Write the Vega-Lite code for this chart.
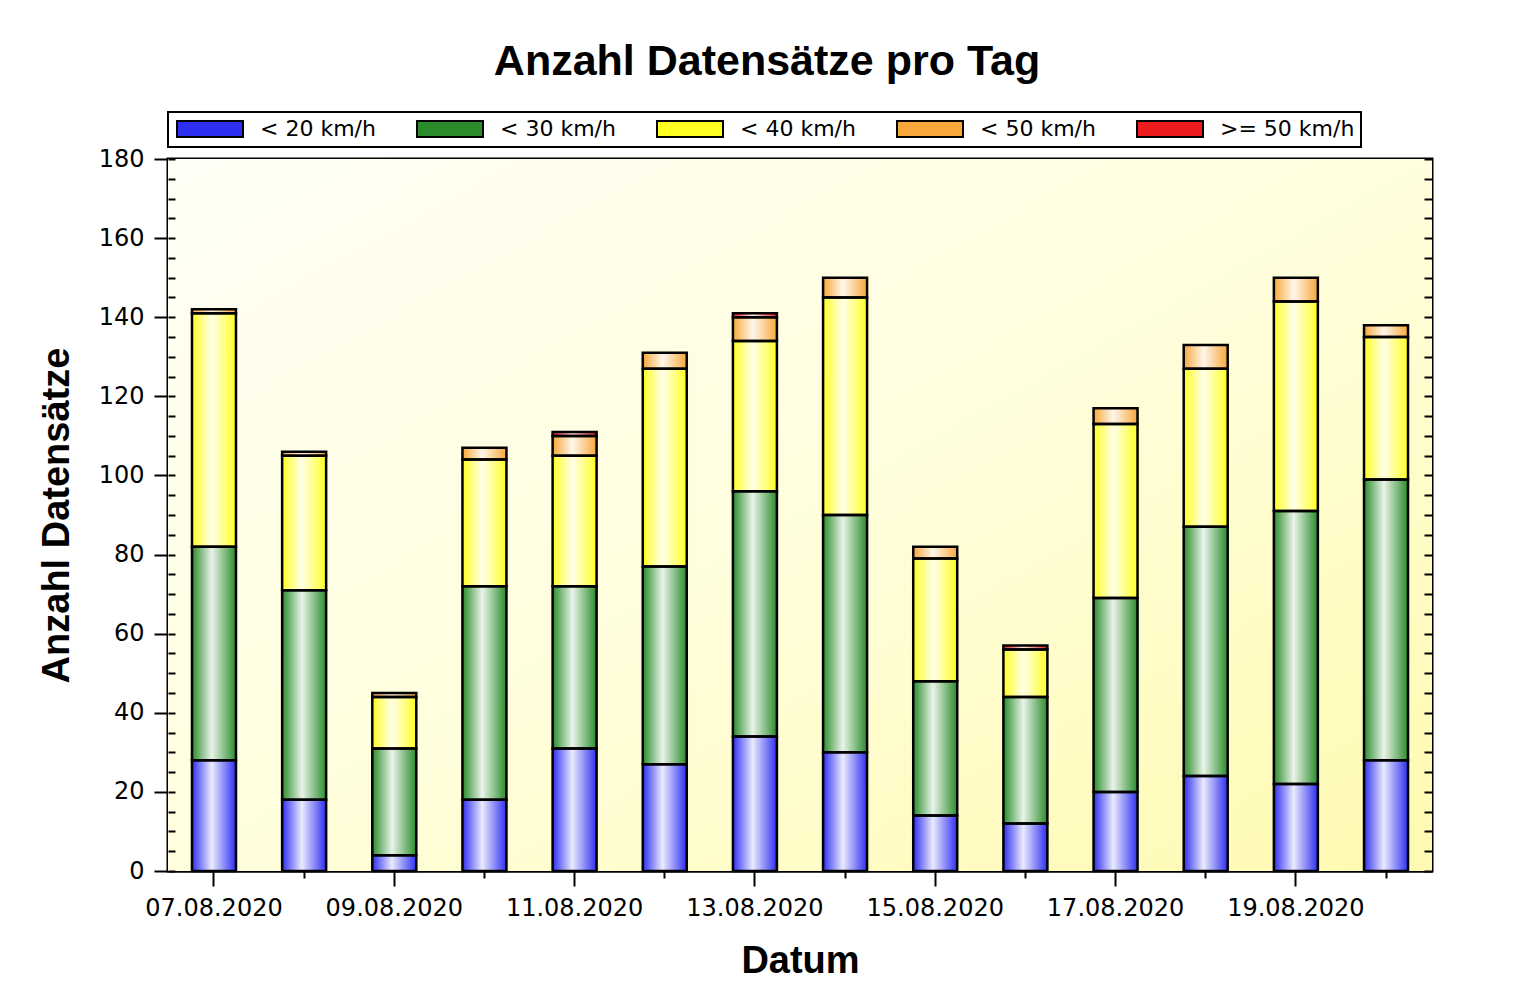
{
  "$schema": "https://vega.github.io/schema/vega-lite/v6.json",
  "width": 1264,
  "height": 712,
  "autosize": {"type": "none"},
  "padding": {"left": 168, "top": 159, "right": 87, "bottom": 129},
  "background": "white",
  "title": {"text": "Anzahl Datensätze pro Tag", "font": "Liberation Sans", "fontSize": 43, "fontWeight": "bold", "color": "black", "anchor": "middle", "dx": -33, "offset": 27},
  "data": {"values": [
    {"date": "07.08.2020", "speed": "< 20 km/h", "n": 28},
    {"date": "07.08.2020", "speed": "< 30 km/h", "n": 54},
    {"date": "07.08.2020", "speed": "< 40 km/h", "n": 59},
    {"date": "07.08.2020", "speed": "< 50 km/h", "n": 1},
    {"date": "08.08.2020", "speed": "< 20 km/h", "n": 18},
    {"date": "08.08.2020", "speed": "< 30 km/h", "n": 53},
    {"date": "08.08.2020", "speed": "< 40 km/h", "n": 34},
    {"date": "08.08.2020", "speed": "< 50 km/h", "n": 1},
    {"date": "09.08.2020", "speed": "< 20 km/h", "n": 4},
    {"date": "09.08.2020", "speed": "< 30 km/h", "n": 27},
    {"date": "09.08.2020", "speed": "< 40 km/h", "n": 13},
    {"date": "09.08.2020", "speed": "< 50 km/h", "n": 1},
    {"date": "10.08.2020", "speed": "< 20 km/h", "n": 18},
    {"date": "10.08.2020", "speed": "< 30 km/h", "n": 54},
    {"date": "10.08.2020", "speed": "< 40 km/h", "n": 32},
    {"date": "10.08.2020", "speed": "< 50 km/h", "n": 3},
    {"date": "11.08.2020", "speed": "< 20 km/h", "n": 31},
    {"date": "11.08.2020", "speed": "< 30 km/h", "n": 41},
    {"date": "11.08.2020", "speed": "< 40 km/h", "n": 33},
    {"date": "11.08.2020", "speed": "< 50 km/h", "n": 5},
    {"date": "11.08.2020", "speed": ">= 50 km/h", "n": 1},
    {"date": "12.08.2020", "speed": "< 20 km/h", "n": 27},
    {"date": "12.08.2020", "speed": "< 30 km/h", "n": 50},
    {"date": "12.08.2020", "speed": "< 40 km/h", "n": 50},
    {"date": "12.08.2020", "speed": "< 50 km/h", "n": 4},
    {"date": "13.08.2020", "speed": "< 20 km/h", "n": 34},
    {"date": "13.08.2020", "speed": "< 30 km/h", "n": 62},
    {"date": "13.08.2020", "speed": "< 40 km/h", "n": 38},
    {"date": "13.08.2020", "speed": "< 50 km/h", "n": 6},
    {"date": "13.08.2020", "speed": ">= 50 km/h", "n": 1},
    {"date": "14.08.2020", "speed": "< 20 km/h", "n": 30},
    {"date": "14.08.2020", "speed": "< 30 km/h", "n": 60},
    {"date": "14.08.2020", "speed": "< 40 km/h", "n": 55},
    {"date": "14.08.2020", "speed": "< 50 km/h", "n": 5},
    {"date": "15.08.2020", "speed": "< 20 km/h", "n": 14},
    {"date": "15.08.2020", "speed": "< 30 km/h", "n": 34},
    {"date": "15.08.2020", "speed": "< 40 km/h", "n": 31},
    {"date": "15.08.2020", "speed": "< 50 km/h", "n": 3},
    {"date": "16.08.2020", "speed": "< 20 km/h", "n": 12},
    {"date": "16.08.2020", "speed": "< 30 km/h", "n": 32},
    {"date": "16.08.2020", "speed": "< 40 km/h", "n": 12},
    {"date": "16.08.2020", "speed": ">= 50 km/h", "n": 1},
    {"date": "17.08.2020", "speed": "< 20 km/h", "n": 20},
    {"date": "17.08.2020", "speed": "< 30 km/h", "n": 49},
    {"date": "17.08.2020", "speed": "< 40 km/h", "n": 44},
    {"date": "17.08.2020", "speed": "< 50 km/h", "n": 4},
    {"date": "18.08.2020", "speed": "< 20 km/h", "n": 24},
    {"date": "18.08.2020", "speed": "< 30 km/h", "n": 63},
    {"date": "18.08.2020", "speed": "< 40 km/h", "n": 40},
    {"date": "18.08.2020", "speed": "< 50 km/h", "n": 6},
    {"date": "19.08.2020", "speed": "< 20 km/h", "n": 22},
    {"date": "19.08.2020", "speed": "< 30 km/h", "n": 69},
    {"date": "19.08.2020", "speed": "< 40 km/h", "n": 53},
    {"date": "19.08.2020", "speed": "< 50 km/h", "n": 6},
    {"date": "20.08.2020", "speed": "< 20 km/h", "n": 28},
    {"date": "20.08.2020", "speed": "< 30 km/h", "n": 71},
    {"date": "20.08.2020", "speed": "< 40 km/h", "n": 36},
    {"date": "20.08.2020", "speed": "< 50 km/h", "n": 3}
  ]},
  "resolve": {"axis": {"x": "independent", "y": "independent"}},
  "layer": [
    {
      "data": {"values": [{"bg": "plot"}]},
      "mark": {"type": "rect", "color": {"gradient": "linear", "x1": 0, "y1": 0, "x2": 1, "y2": 1, "stops": [{"offset": 0, "color": "#fffff6"}, {"offset": 0.5, "color": "#fffedd"}, {"offset": 1, "color": "#fffab0"}]}},
      "encoding": {}
    },
    {
      "transform": [{"stack": "n", "groupby": ["date"], "sort": [{"field": "speed", "order": "ascending"}], "as": ["y0", "y1"]}],
      "mark": {"type": "bar", "opacity": 1},
      "encoding": {
        "x": {"field": "date", "type": "ordinal", "sort": null,
          "scale": {"paddingInner": 0.512, "paddingOuter": 0.266},
          "axis": {"orient": "bottom", "title": "Datum", "labelAngle": 0,
            "values": ["07.08.2020", "09.08.2020", "11.08.2020", "13.08.2020", "15.08.2020", "17.08.2020", "19.08.2020"],
            "tickSize": 15, "labelPadding": 10, "titlePadding": 22}},
        "y": {"field": "y1", "type": "quantitative",
          "scale": {"domain": [0, 180], "nice": false},
          "axis": {"orient": "left", "title": "Anzahl Datensätze", "values": [0, 20, 40, 60, 80, 100, 120, 140, 160, 180],
            "tickSize": 14, "labelPadding": 10, "titlePadding": 22}},
        "y2": {"field": "y0"},
        "color": {"field": "speed", "type": "nominal",
          "scale": {"domain": ["< 20 km/h", "< 30 km/h", "< 40 km/h", "< 50 km/h", ">= 50 km/h"], "range": ["#2f2ff2", "#2a8c2a", "#ffff22", "#f7a83a", "#ee1c1c"]},
          "legend": {"orient": "none", "legendX": 0, "legendY": -47, "direction": "horizontal", "columns": 5, "title": null,
            "symbolType": "M-1,-1H7.25V1H-1Z", "symbolSize": 256, "symbolStrokeColor": "black", "symbolStrokeWidth": 2, "symbolOpacity": 1,
            "labelFont": "DejaVu Sans", "labelFontSize": 22, "labelColor": "black", "labelOffset": 64,
            "columnPadding": 18, "padding": 6, "strokeColor": "black", "gridAlign": "all", "fillColor": "white"}}
      }
    },
    {
      "transform": [{"aggregate": [{"op": "sum", "field": "n", "as": "total"}], "groupby": ["date"]}],
      "mark": {"type": "bar", "color": {"gradient": "linear", "x1": 0, "y1": 0, "x2": 1, "y2": 0, "stops": [{"offset": 0, "color": "rgba(255,255,255,0)"}, {"offset": 0.45, "color": "rgba(255,255,255,0.9)"}, {"offset": 1, "color": "rgba(255,255,255,0)"}]}},
      "encoding": {
        "x": {"field": "date", "type": "ordinal", "sort": null, "axis": null},
        "y": {"field": "total", "type": "quantitative",
          "axis": {"orient": "left", "title": null, "labels": false, "domain": false, "tickSize": -7, "zindex": 1,
            "values": [0,5,10,15,20,25,30,35,40,45,50,55,60,65,70,75,80,85,90,95,100,105,110,115,120,125,130,135,140,145,150,155,160,165,170,175,180]}}
      }
    },
    {
      "transform": [{"stack": "n", "groupby": ["date"], "sort": [{"field": "speed", "order": "ascending"}], "as": ["y0", "y1"]}],
      "mark": {"type": "bar", "fillOpacity": 0, "stroke": "black", "strokeWidth": 2.5},
      "encoding": {
        "x": {"field": "date", "type": "ordinal", "sort": null,
          "axis": {"orient": "bottom", "title": null, "labels": false, "domain": false, "tickSize": 7,
            "values": ["08.08.2020", "10.08.2020", "12.08.2020", "14.08.2020", "16.08.2020", "18.08.2020", "20.08.2020"]}},
        "y": {"field": "y1", "type": "quantitative",
          "axis": {"orient": "right", "title": null, "labels": false, "domain": false, "tickSize": -8, "zindex": 1,
            "values": [0,5,10,15,20,25,30,35,40,45,50,55,60,65,70,75,80,85,90,95,100,105,110,115,120,125,130,135,140,145,150,155,160,165,170,175,180]}},
        "y2": {"field": "y0"}
      }
    }
  ],
  "config": {
    "view": {"stroke": "black", "strokeWidth": 3},
    "legend": {"strokeWidth": 2},
    "axis": {"domainColor": "black", "domainWidth": 2, "tickColor": "black", "tickWidth": 2, "labelFont": "DejaVu Sans", "labelFontSize": 24, "labelColor": "black", "titleFont": "Liberation Sans", "titleFontSize": 38, "titleFontWeight": "bold", "titleColor": "black", "grid": false}
  }
}
